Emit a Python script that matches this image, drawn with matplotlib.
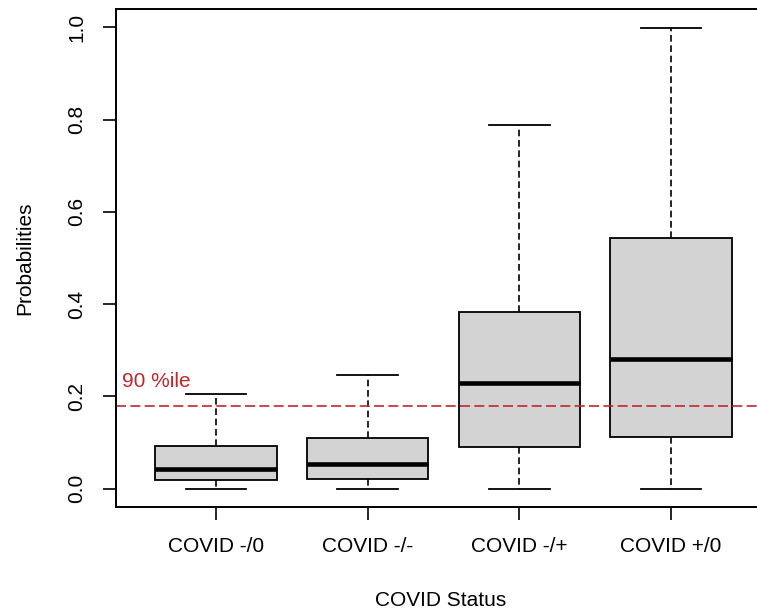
import matplotlib
matplotlib.use("Agg")
import matplotlib.pyplot as plt

plt.rcParams['font.family'] = ['Liberation Sans', 'DejaVu Sans']

# box statistics
categories = ['COVID -/0', 'COVID -/-', 'COVID -/+', 'COVID +/0']
whis_low = [0.0, 0.0, 0.0, 0.0]
q1 = [0.019, 0.021, 0.090, 0.111]
medians = [0.042, 0.054, 0.228, 0.282]
q3 = [0.092, 0.110, 0.382, 0.544]
whis_high = [0.204, 0.246, 0.788, 0.999]
cutoff = 0.179
yticks = [0.0, 0.2, 0.4, 0.6, 0.8, 1.0]

stats = []
for i in range(len(categories)):
    stats.append({'whislo': whis_low[i], 'q1': q1[i], 'med': medians[i],
                  'q3': q3[i], 'whishi': whis_high[i], 'fliers': [],
                  'label': categories[i]})

fig = plt.figure(figsize=(7.57, 6.11), dpi=100)
# axes run past the right edge, like the cropped original
ax = fig.add_axes([116/757, 1 - 507/611, 655/757, (507 - 9)/611])

positions = list(range(1, len(categories) + 1))
ax.bxp(stats, positions=positions, widths=0.8, capwidths=0.4,
       showfliers=False, patch_artist=True,
       boxprops=dict(facecolor='#d3d3d3', edgecolor='black', linewidth=1.3),
       medianprops=dict(color='black', linewidth=3.3, solid_capstyle='butt'),
       whiskerprops=dict(color='black', linewidth=1.2, linestyle=(0, (4, 2.2))),
       capprops=dict(color='black', linewidth=1.3))

# 90th percentile line
ax.axhline(cutoff, color='#c0272d', linewidth=1.2, linestyle=(0, (6, 2.6)))
ax.text(0.38, 0.22, '90 %ile', color='#c0272d', fontsize=15,
        ha='left', va='baseline')

ax.set_xlim(0.34, 4.66)
ax.set_ylim(-0.04, 1.04)
ax.set_xticks(positions)
ax.set_xticklabels(categories)
ax.set_yticks(yticks)
ax.set_yticklabels(['%.1f' % v for v in yticks])
ax.tick_params(axis='both', labelsize=15, length=9.5, width=1.2, color='black')
ax.tick_params(axis='x', pad=12)
ax.tick_params(axis='y', pad=12, labelrotation=90)
for lab in ax.get_yticklabels():
    lab.set_va('center')

for s in ax.spines.values():
    s.set_linewidth(1.4)

ax.set_xlabel('COVID Status', fontsize=15)
ax.set_ylabel('Probabilities', fontsize=15)
ax.xaxis.set_label_coords(0.495, -0.188)
ax.xaxis.label.set_va('center')
ax.yaxis.set_label_coords(-0.139, 0.5)
ax.yaxis.label.set_va('center')

fig.savefig('out.png', dpi=100)
